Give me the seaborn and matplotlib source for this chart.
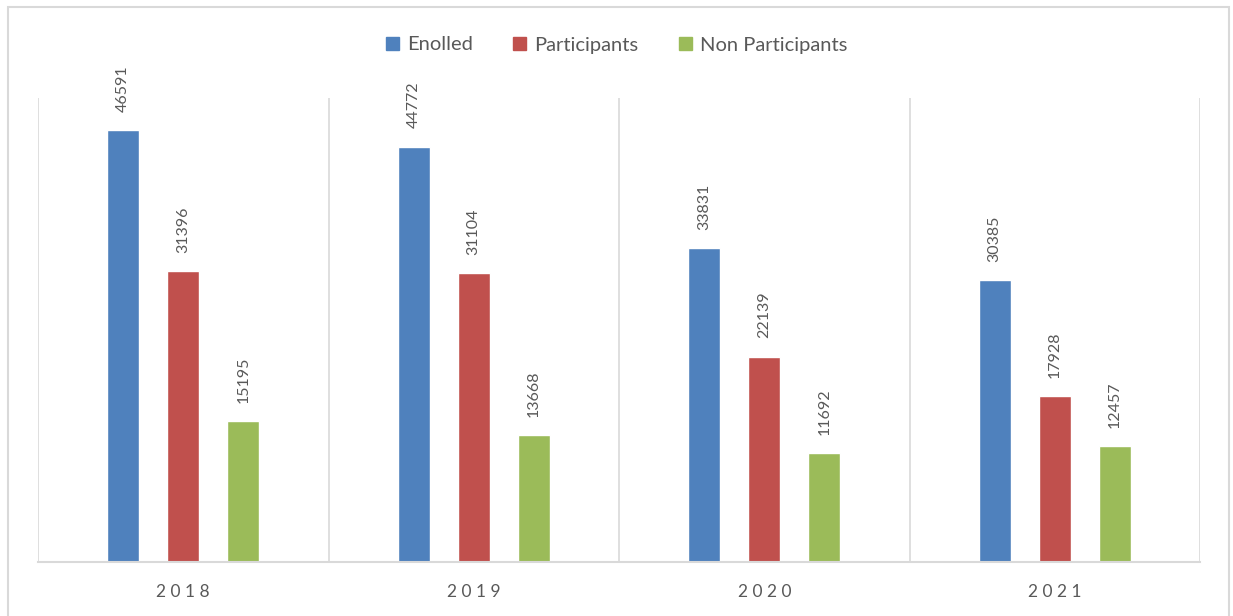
import matplotlib
matplotlib.use("Agg")
import matplotlib.pyplot as plt
import matplotlib.patches as mpatches
import seaborn as sns
import pandas as pd

years = ["2018", "2019", "2020", "2021"]
series = ["Enolled", "Participants", "Non Participants"]
enrolled = [46591, 44772, 33831, 30385]
participants = [31396, 31104, 22139, 17928]
non_participants = [15195, 13668, 11692, 12457]
colors = ["#4f81bd", "#c0504d", "#9bbb59"]

rows = []
for name, vals in zip(series, [enrolled, participants, non_participants]):
    for y, v in zip(years, vals):
        rows.append({"Year": y, "Series": name, "Value": v})
df = pd.DataFrame(rows)

sns.set_theme(style="white")
plt.rcParams["font.family"] = ["Lato", "DejaVu Sans"]

fig = plt.figure(figsize=(12.33, 6.16), dpi=100)
ax = fig.add_axes([38/1233, 54/616, (1200-38)/1233, (562-98)/616])

sns.barplot(data=df, x="Year", y="Value", hue="Series", palette=colors,
            order=years, hue_order=series, width=0.62, gap=0.467,
            ax=ax, legend=False, saturation=1)

for c in ax.containers:
    ax.bar_label(c, labels=[f"{int(v)}" for v in c.datavalues], rotation=90,
                 padding=13, fontsize=11.5, color="#595959")

ax.set_xlim(-0.5, 3.5)
ax.set_ylim(0, 50000)
for xv in [-0.5, 0.5, 1.5, 2.5, 3.5]:
    ax.axvline(xv, color="#d9d9d9", lw=1.2, zorder=0)
for s in ["top", "right", "left"]:
    ax.spines[s].set_visible(False)
ax.spines["bottom"].set_color("#d9d9d9")
ax.spines["bottom"].set_linewidth(1.5)
ax.set_yticks([])
ax.set_xlabel("")
ax.set_ylabel("")
ax.set_xticks(range(len(years)))
ax.set_xticklabels([" ".join(y) for y in years], fontsize=12.5, color="#595959")
ax.tick_params(axis="x", length=0, pad=16)

handles = [mpatches.Patch(color=c, label=n) for c, n in zip(colors, series)]
fig.legend(handles=handles, loc="center", bbox_to_anchor=(0.5, 1 - 45/616),
           ncol=3, frameon=False, fontsize=14.5, handlelength=0.65, handleheight=0.65,
           columnspacing=2.0, handletextpad=0.4, labelcolor="#595959")

border = mpatches.Rectangle((8/1233, -0.05), (1229-8)/1233, 1.05 - 7/616,
                            transform=fig.transFigure, fill=False,
                            edgecolor="#d9d9d9", lw=1.5)
fig.patches.append(border)

fig.savefig("out.png", dpi=100)
